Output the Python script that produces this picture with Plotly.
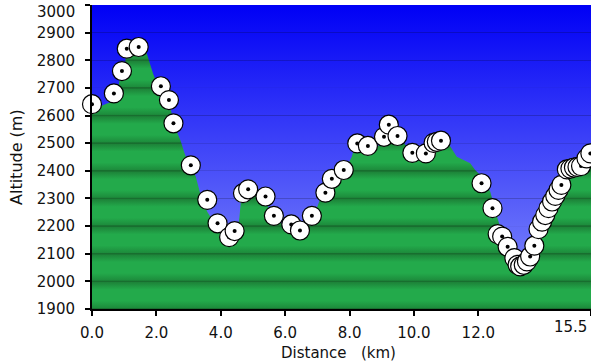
import plotly.graph_objects as go

# ---------------- data ----------------
profile_km = [0.0, 0.3, 0.6, 0.8, 0.85, 1.0, 1.05, 1.2, 1.7, 1.9, 2.05, 2.25, 2.45, 2.6, 2.75,
              2.87, 2.98, 3.22, 3.38, 3.58, 3.74, 4.0, 4.25, 4.4, 4.5, 4.58, 4.65, 4.75, 5.1,
              5.4, 5.73, 6.05, 6.36, 6.67, 6.88, 7.08, 7.29, 7.6, 7.91, 8.07, 8.17, 8.5, 8.95,
              9.15, 9.5, 9.78, 10.0, 10.3, 10.4, 10.6, 10.8, 11.1, 11.33, 11.54, 11.75, 11.9,
              12.06, 12.37, 12.58, 12.68, 12.9, 13.1, 13.3, 13.5, 13.7, 13.9, 14.2, 14.5, 14.7,
              15.0, 15.3, 15.5]
profile_alt = [2615, 2635, 2650, 2690, 2725, 2760, 2810, 2825, 2825, 2750, 2710, 2680, 2620, 2550, 2510,
               2465, 2430, 2380, 2310, 2252, 2222, 2185, 2160, 2150, 2160, 2234, 2319, 2325, 2325,
               2283, 2222, 2198, 2174, 2198, 2234, 2295, 2343, 2379, 2415, 2451, 2493, 2490, 2492,
               2523, 2530, 2487, 2470, 2451, 2487, 2495, 2495, 2493, 2451, 2439, 2427, 2403,
               2385, 2325, 2234, 2198, 2130, 2080, 2040, 2045, 2100, 2180, 2260, 2340, 2400,
               2420, 2440, 2465]

wp_km = [0.0, 0.68, 0.93, 1.08, 1.45, 2.14, 2.39, 2.53, 3.07, 3.58, 3.90, 4.26, 4.43, 4.69, 4.85,
         5.39, 5.65, 6.19, 6.46, 6.83, 7.25, 7.45, 7.82, 8.24, 8.57, 9.07, 9.22, 9.49, 9.95,
         10.37, 10.61, 10.71, 10.84, 12.10, 12.44, 12.60, 12.74, 12.91, 13.12, 13.22, 13.30,
         13.41, 13.51, 13.61, 13.74, 13.87, 13.98, 14.08, 14.18, 14.29, 14.39, 14.49, 14.58,
         14.75, 14.86, 14.97, 15.08, 15.19, 15.36, 15.48]
wp_alt = [2641, 2680, 2761, 2842, 2848, 2706, 2656, 2572, 2420, 2295, 2210, 2160, 2182, 2319, 2333,
          2307, 2237, 2206, 2184, 2237, 2321, 2371, 2403, 2499, 2490, 2523, 2567, 2526, 2465,
          2463, 2501, 2505, 2509, 2355, 2265, 2171, 2162, 2125, 2084, 2060, 2054,
          2060, 2072, 2090, 2129, 2189, 2216, 2240, 2265, 2289, 2309, 2331, 2349,
          2405, 2408, 2412, 2414, 2417, 2445, 2463]

x_tickvals = [0, 2, 4, 6, 8, 10, 12, 15.5]
x_ticktext = ["0.0", "2.0", "4.0", "6.0", "8.0", "10.0", "12.0", ""]
y_tickvals = list(range(1900, 3001, 100))
y_ticktext = [str(v) for v in y_tickvals[:-1]] + [""]

X_RANGE = [0, 15.5]
Y_RANGE = [1900, 3000]

# ---------------- gradient colour scales ----------------
span = Y_RANGE[1] - Y_RANGE[0]


def pos(a):
    return (a - Y_RANGE[0]) / span


def rgb(c):
    return "rgb(%d,%d,%d)" % tuple(int(round(v)) for v in c)


top_c = (0, 0, 245)
bot_c = (135, 146, 252)


def sky(a):
    t = (a - Y_RANGE[0]) / span
    return tuple(bot_c[i] + (top_c[i] - bot_c[i]) * t for i in range(3))


def darker(c, f):
    return tuple(v * f for v in c)


blue_scale = []
for g in y_tickvals:
    for da, isline in [(-1.6, False), (-0.8, True), (0.8, True), (1.6, False)]:
        a = g + da
        if a < Y_RANGE[0] or a > Y_RANGE[1]:
            continue
        c = sky(a)
        blue_scale.append([pos(a), rgb(darker(c, 0.8) if isline else c)])
blue_scale = [[0.0, rgb(sky(Y_RANGE[0]))]] + blue_scale + [[1.0, rgb(sky(Y_RANGE[1]))]]
blue_scale.sort(key=lambda s: s[0])

dark_g = (24, 110, 47)
mid_g = (29, 140, 60)
light_g = (35, 170, 75)
green_scale = []
for g in y_tickvals[:-1]:
    for da, c in [(0.0, dark_g), (1.6, dark_g), (4, mid_g), (30, light_g), (70, light_g),
                  (96, (29, 132, 57)), (98.4, dark_g)]:
        green_scale.append([pos(g + da), rgb(c)])
green_scale.append([1.0, rgb(dark_g)])

# ---------------- figure ----------------
fig = go.Figure()

fig.add_trace(go.Scatter(
    x=[X_RANGE[0], X_RANGE[1], X_RANGE[1], X_RANGE[0]],
    y=[Y_RANGE[0], Y_RANGE[0], Y_RANGE[1], Y_RANGE[1]],
    mode="none", fill="toself",
    fillgradient=dict(type="vertical", colorscale=blue_scale,
                      start=Y_RANGE[0], stop=Y_RANGE[1]),
    hoverinfo="skip", showlegend=False))

fig.add_trace(go.Scatter(
    x=profile_km, y=profile_alt, mode="none", fill="tozeroy",
    fillgradient=dict(type="vertical", colorscale=green_scale,
                      start=Y_RANGE[0], stop=Y_RANGE[1]),
    hoverinfo="skip", showlegend=False))

# waypoints: white disc then its black centre dot, one after another so that
# later discs cover earlier dots
for k, a in zip(wp_km, wp_alt):
    fig.add_trace(go.Scatter(
        x=[k], y=[a], mode="markers", cliponaxis=False,
        marker=dict(symbol="circle", size=19, color="white",
                    line=dict(color="black", width=1.2)),
        hoverinfo="skip", showlegend=False))
    fig.add_trace(go.Scatter(
        x=[k], y=[a], mode="markers", cliponaxis=False,
        marker=dict(symbol="circle", size=4, color="black", line=dict(width=0)),
        hoverinfo="skip", showlegend=False))

font = dict(family="DejaVu Sans", size=15, color="#111111")

fig.update_layout(
    width=591, height=364, autosize=False,
    margin=dict(l=92, r=0, t=5, b=55, pad=0),
    paper_bgcolor="white", plot_bgcolor="white",
    font=font,
    xaxis=dict(range=X_RANGE, tickvals=x_tickvals, ticktext=x_ticktext,
               showgrid=False, zeroline=False, showline=True, linecolor="black",
               linewidth=2, ticks="outside", ticklen=5, tickwidth=2, tickcolor="black",
               ticklabelstandoff=4, tickfont=font, fixedrange=True, automargin=False),
    yaxis=dict(range=Y_RANGE, tickvals=y_tickvals, ticktext=y_ticktext,
               showgrid=False, zeroline=False, showline=True, linecolor="black",
               linewidth=2, ticks="outside", ticklen=5, tickwidth=2, tickcolor="black",
               ticklabelstandoff=7, tickfont=font, fixedrange=True, automargin=False),
    annotations=[
        dict(text="15.5", x=X_RANGE[1], xref="x", y=0, yref="paper",
             xanchor="right", yanchor="middle", xshift=-2, yshift=-18,
             showarrow=False, font=font),
        dict(text=str(Y_RANGE[1]), x=0, xref="paper", y=Y_RANGE[1], yref="y",
             xanchor="right", yanchor="middle", xshift=-15, yshift=-7,
             showarrow=False, font=font),
        dict(text="Distance\u00a0\u00a0\u00a0(km)", x=0.5, xref="paper", y=0, yref="paper",
             xanchor="center", yanchor="middle", yshift=-44, xshift=-3,
             showarrow=False, font=font),
        dict(text="Altitude (m)", x=0, xref="paper", y=0.5, yref="paper",
             xanchor="center", yanchor="middle", xshift=-76, textangle=-90,
             showarrow=False, font=dict(family="DejaVu Sans", size=16, color="#111111")),
    ],
)

fig.write_html("out.html", config={"displayModeBar": False},
               post_script="document.body.style.margin='0';document.body.style.padding='0';")
